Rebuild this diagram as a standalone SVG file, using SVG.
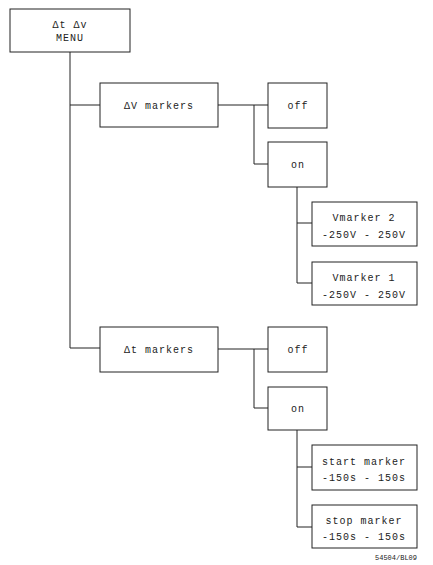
<svg xmlns="http://www.w3.org/2000/svg" width="433" height="565" viewBox="0 0 433 565">
<style>
.box{fill:#fff;stroke:#222;stroke-width:1}
.ln{fill:none;stroke:#222;stroke-width:1}
text{font-family:"Liberation Mono","DejaVu Sans Mono",monospace;font-size:10px;fill:#222;text-anchor:middle;letter-spacing:1px}
.sm{font-size:7px;letter-spacing:0;text-anchor:end}
</style>
<rect width="433" height="565" fill="#fff"/>
<g id="connectors">
<path class="ln" d="M70,52 V348 H100"/>
<path class="ln" d="M70,105 H100"/>
<path class="ln" d="M218,105 H268 M254,105 V164 H268"/>
<path class="ln" d="M297,187 V283 H312 M297,223 H312"/>
<path class="ln" d="M218,349 H268 M254,349 V408 H268"/>
<path class="ln" d="M297,430 V527 H312 M297,467 H312"/>
</g>
<g id="menu"><rect class="box" x="10" y="9" width="120" height="43"/><text x="70" y="28">Δt Δv</text><text x="70" y="41">MENU</text></g>
<g id="dv-markers"><rect class="box" x="100" y="83" width="118" height="44"/><text x="159" y="109">ΔV markers</text></g>
<g id="dv-off"><rect class="box" x="268" y="83" width="59" height="45"/><text x="298" y="109">off</text></g>
<g id="dv-on"><rect class="box" x="268" y="142" width="59" height="45"/><text x="298" y="168">on</text></g>
<g id="vmarker2"><rect class="box" x="312" y="202" width="105" height="44"/><text x="364" y="221">Vmarker 2</text><text x="364" y="238">-250V - 250V</text></g>
<g id="vmarker1"><rect class="box" x="312" y="262" width="105" height="43"/><text x="364" y="281">Vmarker 1</text><text x="364" y="298">-250V - 250V</text></g>
<g id="dt-markers"><rect class="box" x="100" y="327" width="118" height="45"/><text x="159" y="353">Δt markers</text></g>
<g id="dt-off"><rect class="box" x="268" y="327" width="59" height="45"/><text x="298" y="353">off</text></g>
<g id="dt-on"><rect class="box" x="268" y="387" width="59" height="43"/><text x="298" y="412">on</text></g>
<g id="start-marker"><rect class="box" x="312" y="445" width="105" height="45"/><text x="364" y="465">start marker</text><text x="364" y="481">-150s - 150s</text></g>
<g id="stop-marker"><rect class="box" x="312" y="505" width="105" height="43"/><text x="364" y="524">stop marker</text><text x="364" y="540">-150s - 150s</text></g>
<text class="sm" x="417" y="560">54504/BL09</text>
</svg>
